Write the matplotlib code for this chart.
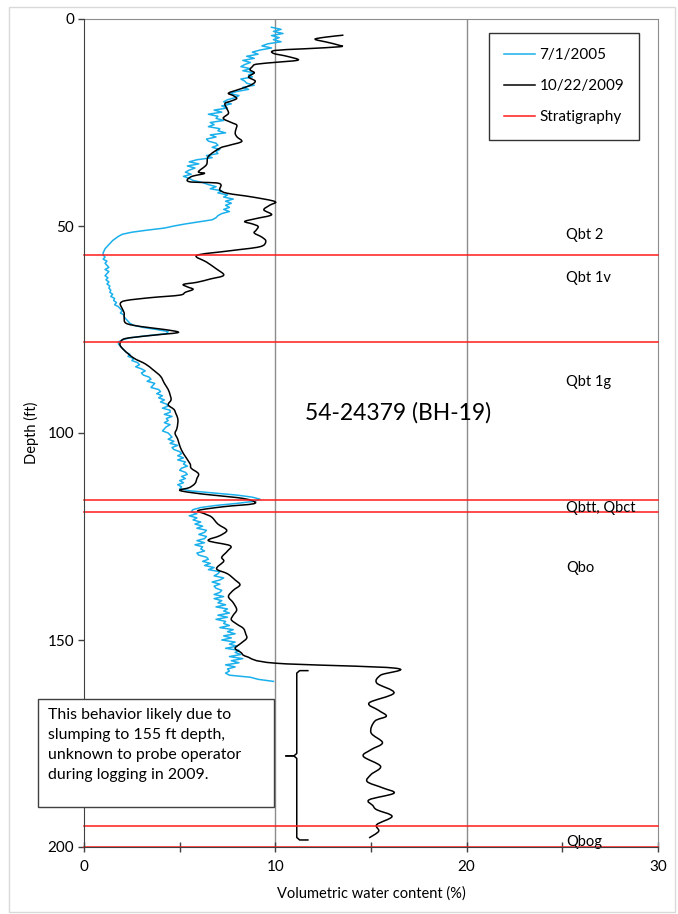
import numpy as np
import matplotlib
matplotlib.use("Agg")
import matplotlib.pyplot as plt
from matplotlib.patches import Rectangle, PathPatch
from matplotlib.path import Path
from matplotlib.lines import Line2D

plt.rcParams['font.family'] = ['Lato', 'DejaVu Sans']

# Neutron log, 7/1/2005 (0.5 ft sampling from 2.0 ft)
blue_start = 2.0
blue_step = 0.5
blue_vwc = [
    9.8, 10.3, 9.9, 10.4, 9.8, 10.2, 9.9, 10.3, 9.6, 9.3, 9.8, 9.2, 8.8, 9.1, 8.5, 8.9, 8.3, 8.7, 8.4, 8.2,
    8.7, 8.3, 8.9, 8.6, 8.8, 8.2, 8.4, 8.5, 8.9, 8.3, 8.6, 8.0, 7.6, 8.1, 7.9, 7.5, 7.3, 7.7, 7.2, 7.5,
    6.8, 7.2, 6.5, 7.0, 6.9, 7.3, 6.6, 6.8, 6.5, 7.1, 7.0, 7.4, 6.6, 6.9, 6.4, 6.5, 6.9, 7.0, 6.7, 7.1,
    6.9, 7.0, 6.4, 6.7, 5.9, 5.5, 6.0, 5.4, 5.8, 5.5, 5.3, 5.6, 5.2, 5.5, 5.7, 6.2, 6.5, 6.9, 6.6, 7.2,
    7.0, 7.5, 7.3, 7.8, 7.4, 7.7, 7.4, 7.6, 7.3, 7.6, 7.2, 7.0, 6.9, 6.7, 6.0, 5.3, 4.7, 4.2, 3.3, 2.5,
    2.0, 1.8, 1.65, 1.5, 1.4, 1.3, 1.2, 1.1, 1.05, 1.0, 1.0, 1.1, 1.0, 1.2, 1.1, 1.2, 1.3, 1.1, 1.3, 1.2,
    1.1, 1.25, 1.15, 1.3, 1.2, 1.35, 1.3, 1.4, 1.35, 1.5, 1.4, 1.6, 1.55, 1.7, 1.6, 1.8, 1.9, 2.0, 1.9, 2.1,
    2.1, 2.2, 2.3, 2.4, 2.6, 3.1, 3.8, 4.4, 4.3, 3.3, 2.4, 2.0, 1.8, 1.8, 1.9, 2.0, 2.1, 2.2, 2.4, 2.3,
    2.6, 2.5, 2.8, 2.9, 2.7, 3.0, 3.2, 3.0, 3.1, 3.4, 3.5, 3.3, 3.7, 3.6, 3.5, 3.9, 4.0, 3.8, 4.1, 3.9,
    4.2, 4.0, 4.3, 4.4, 4.1, 4.5, 4.5, 4.2, 4.6, 4.3, 4.4, 4.2, 4.5, 4.3, 4.2, 4.1, 4.4, 4.5, 4.6, 4.4,
    4.7, 4.5, 4.9, 4.6, 4.7, 5.0, 5.1, 4.9, 5.2, 4.9, 5.3, 5.2, 5.4, 5.1, 5.0, 5.3, 5.4, 5.1, 5.3, 5.0,
    5.2, 4.9, 5.1, 5.0, 5.6, 6.8, 8.0, 8.8, 9.2, 8.9, 8.0, 6.9, 6.1, 5.7, 5.6, 5.9, 5.5, 5.9, 5.7, 6.1,
    5.8, 6.2, 5.9, 6.4, 6.3, 6.0, 6.4, 6.3, 5.9, 6.3, 5.8, 6.2, 6.1, 6.3, 5.9, 6.0, 6.4, 6.5, 6.2, 6.6,
    6.3, 6.8, 6.5, 7.1, 7.0, 6.8, 7.3, 7.1, 6.7, 7.1, 6.8, 6.9, 7.2, 7.1, 6.8, 7.3, 6.8, 7.2, 7.0, 7.4,
    6.9, 7.5, 7.3, 7.6, 7.0, 7.5, 6.9, 7.4, 7.3, 7.6, 7.1, 7.8, 7.5, 7.9, 7.3, 7.7, 7.2, 7.9, 7.6, 8.0,
    7.4, 8.1, 7.9, 8.2, 7.6, 8.3, 7.7, 8.1, 7.4, 7.9, 7.5, 7.6, 7.4, 7.6, 8.7, 9.1, 9.9,
]
blue_depth = blue_start + blue_step * np.arange(len(blue_vwc))

# Neutron log, 10/22/2009
black_depth = [
    3.9, 4.4, 4.9, 5.6, 6.3, 6.7, 7.2, 7.6, 8.3, 9.0, 9.9, 10.4, 10.9, 11.5, 12.3, 13.0, 14.0,
    15.0, 16.0, 17.0, 17.9, 18.5, 19.2, 19.8, 20.4, 21.5, 22.8, 24.0, 25.0, 25.6, 26.5, 27.6,
    28.5, 29.6, 30.5, 31.2, 33.2, 35.2, 36.9, 37.3, 38.1, 39.3, 39.7, 41.3, 42.1, 43.0, 44.1,
    45.0, 46.1, 47.3, 48.2, 48.9, 49.5, 50.1, 51.0, 51.7, 52.7, 53.7, 55.0, 56.0, 57.1, 58.7,
    60.3, 61.9, 62.8, 63.6, 64.1, 64.7, 65.3, 66.0, 66.7, 67.3, 68.0, 68.7, 70.0, 71.0, 72.0,
    73.5, 74.3, 75.0, 75.7, 76.3, 77.0, 77.5, 78.7, 80.0, 81.9, 83.3, 84.7, 86.3, 88.0, 89.5,
    90.8, 92.0, 93.2, 94.3, 95.3, 96.5, 97.7, 99.0, 100.1, 101.5, 103.3, 105.0, 107.4, 108.5,
    109.8, 111.0, 112.2, 113.2, 113.9, 114.8, 115.6, 116.3, 117.1, 117.8, 118.7, 119.5, 120.3,
    122.0, 123.5, 124.8, 126.0, 127.2, 128.5, 130.0, 131.0, 132.8, 134.0, 135.5, 136.7, 138.0,
    139.5, 141.0, 142.7, 144.0, 145.1, 146.2, 147.2, 148.5, 149.6, 150.8, 152.0, 153.0, 154.0,
    155.6, 156.8, 158.5, 160.4, 162.8, 165.2, 167.0, 168.4, 169.6, 172.4, 174.8, 176.5, 178.1,
    180.5, 182.5, 184.2, 185.7, 187.0, 188.6, 190.0, 191.0, 192.6, 194.6, 196.2, 197.8,
]
black_vwc = [
    13.56, 12.6, 12.08, 12.7, 13.3, 13.38, 11.5, 9.98, 9.9, 10.6, 11.2, 10.2, 9.03, 8.8, 8.68, 8.9, 8.6,
    8.95, 8.7, 8.1, 7.55, 7.8, 7.98, 7.7, 7.37, 7.45, 7.55, 7.28, 7.7, 7.98, 7.95, 7.9,
    8.0, 8.24, 7.6, 7.1, 6.5, 6.4, 5.98, 6.3, 5.6, 5.5, 7.05, 7.1, 7.5, 8.8, 9.98,
    9.7, 9.4, 9.8, 9.0, 8.4, 8.8, 9.1, 9.0, 8.9, 9.3, 9.5, 9.2, 7.6, 5.9, 6.4,
    6.9, 7.3, 6.6, 5.9, 5.2, 5.4, 5.7, 5.3, 5.0, 3.5, 2.2, 1.9, 2.0, 2.1, 2.1,
    2.2, 3.0, 4.2, 4.93, 3.8, 2.4, 2.0, 1.88, 2.1, 2.6, 3.2, 3.6, 4.0, 4.2, 4.4,
    4.5, 4.55, 4.4, 4.7, 4.8, 4.9, 4.9, 4.85, 4.76, 4.9, 5.02, 5.2, 5.54, 5.6,
    5.98, 5.9, 5.8, 5.5, 5.02, 6.3, 8.0, 8.77, 8.85, 7.3, 5.98, 6.3, 6.67,
    7.0, 7.46, 7.1, 6.5, 7.63, 7.5, 7.2, 7.3, 6.93, 7.5, 7.9, 8.15, 7.8,
    7.55, 7.8, 7.98, 7.8, 7.7, 8.0, 8.33, 8.45, 8.5, 8.2, 7.9, 8.2, 8.5,
    10.0, 16.26, 15.5, 15.3, 16.2, 14.9, 15.4, 15.8, 15.2, 15.0, 15.6, 15.0, 14.6,
    15.5, 15.0, 14.8, 15.6, 16.2, 14.9, 15.1, 15.3, 16.1, 15.3, 15.4, 14.9,
]

# Stratigraphic contacts (ft) and unit labels
strat_depths = [57.0, 78.0, 116.2, 119.0, 195.0, 200.0]
unit_names = ["Qbt 2", "Qbt 1v", "Qbt 1g", "Qbtt, Qbct", "Qbo", "Qbog"]
unit_label_depths = [52.2, 62.6, 87.7, 118.0, 132.6, 198.8]

note_lines = ["This behavior likely due to", "slumping to 155 ft depth,",
              "unknown to probe operator", "during logging in 2009."]


def smooth_path(xs, ys):
    """Smoothed-line path (Catmull-Rom as cubic Bezier) through the points."""
    p = np.column_stack([xs, ys]).astype(float)
    verts = [p[0]]
    codes = [Path.MOVETO]
    n = len(p)
    for i in range(n - 1):
        p0 = p[i - 1] if i > 0 else p[i]
        p3 = p[i + 2] if i + 2 < n else p[i + 1]
        c1 = p[i] + (p[i + 1] - p0) / 6.0
        c2 = p[i + 1] - (p3 - p[i]) / 6.0
        verts += [c1, c2, p[i + 1]]
        codes += [Path.CURVE4] * 3
    return Path(verts, codes)


W, H = 678, 914
fig = plt.figure(figsize=(W / 100, H / 100), dpi=100)
ax = fig.add_axes([84 / W, 1 - 847 / H, 574 / W, 828 / H])

# chart area border
fig.patches.append(Rectangle((9 / W, 1 - 912 / H), 666 / W, 905 / H,
                             transform=fig.transFigure, fill=False,
                             edgecolor="#d9d9d9", lw=1))

for x in [10, 20]:
    ax.axvline(x, color="#8c8c8c", lw=1, zorder=1)

ax.plot(blue_vwc, blue_depth, color="#1ab0ec", lw=1.1, zorder=3)
ax.add_patch(PathPatch(smooth_path(black_vwc, black_depth), fill=False,
                       edgecolor="black", lw=1.1, zorder=4))
for d in strat_depths:
    ax.axhline(d, color="#ff1a1a", lw=1.1, zorder=5, clip_on=False)

for name, d in zip(unit_names, unit_label_depths):
    ax.text(25.2, d, name, fontsize=10.5, va="center", ha="left", zorder=6)

ax.text(16.4, 95.2, "54-24379 (BH-19)", fontsize=16.5, ha="center", va="center")

# brace marking the slumped interval
bx, by0, bmid, by1 = 11.12, 157.4, 178.0, 198.3
ax.plot([11.7, bx + 0.15, bx, bx, bx - 0.15, 10.56], [by0, by0, by0 + 0.6, bmid - 0.6, bmid, bmid],
        color="black", lw=1.1, solid_joinstyle="round")
ax.plot([10.56, bx - 0.15, bx, bx, bx + 0.15, 11.7], [bmid, bmid, bmid + 0.6, by1 - 0.6, by1, by1],
        color="black", lw=1.1, solid_joinstyle="round")

ax.set_xlim(0, 30)
ax.set_ylim(200, 0)
ax.set_xticks([0, 10, 20, 30])
ax.set_xticks([5, 15, 25], minor=True)
ax.set_yticks([0, 50, 100, 150, 200])
ax.tick_params(axis="x", which="both", direction="inout", length=7, width=1, color="#404040",
               labelsize=11, pad=6)
ax.tick_params(axis="y", which="major", direction="out", length=4, width=1, color="#404040",
               labelsize=11, pad=3)
for s in ["top", "right"]:
    ax.spines[s].set_color("#8c8c8c")
for s in ["left", "bottom"]:
    ax.spines[s].set_color("#404040")
    ax.spines[s].set_zorder(6)
ax.set_xlabel("Volumetric water content (%)", fontsize=10.5, labelpad=9)
ax.set_ylabel("Depth (ft)", fontsize=10.5, labelpad=6)

handles = [Line2D([], [], color="#1ab0ec", lw=1.1),
           Line2D([], [], color="black", lw=1.1),
           Line2D([], [], color="#ff1a1a", lw=1.1)]
leg = ax.legend(handles, ["7/1/2005", "10/22/2009", "Stratigraphy"], loc="upper left",
                bbox_to_anchor=((489 - 84) / 574, 1 - (33 - 19) / 828), fontsize=11,
                frameon=True, fancybox=False, borderpad=1.0, labelspacing=1.12,
                handlelength=2.0, handletextpad=0.3, borderaxespad=0)
leg.get_frame().set_edgecolor("black")
leg.get_frame().set_linewidth(1)

# note box
fig.patches.append(Rectangle((37.7 / W, 1 - 807 / H), 236 / W, 108 / H,
                             transform=fig.transFigure, facecolor="white",
                             edgecolor="#404040", lw=1, zorder=10))
fig.text(48 / W, 1 - 708 / H, "\n".join(note_lines), fontsize=11.4, va="top", ha="left",
         linespacing=1.55, zorder=11)

fig.savefig("out.png", dpi=100, facecolor="white")
